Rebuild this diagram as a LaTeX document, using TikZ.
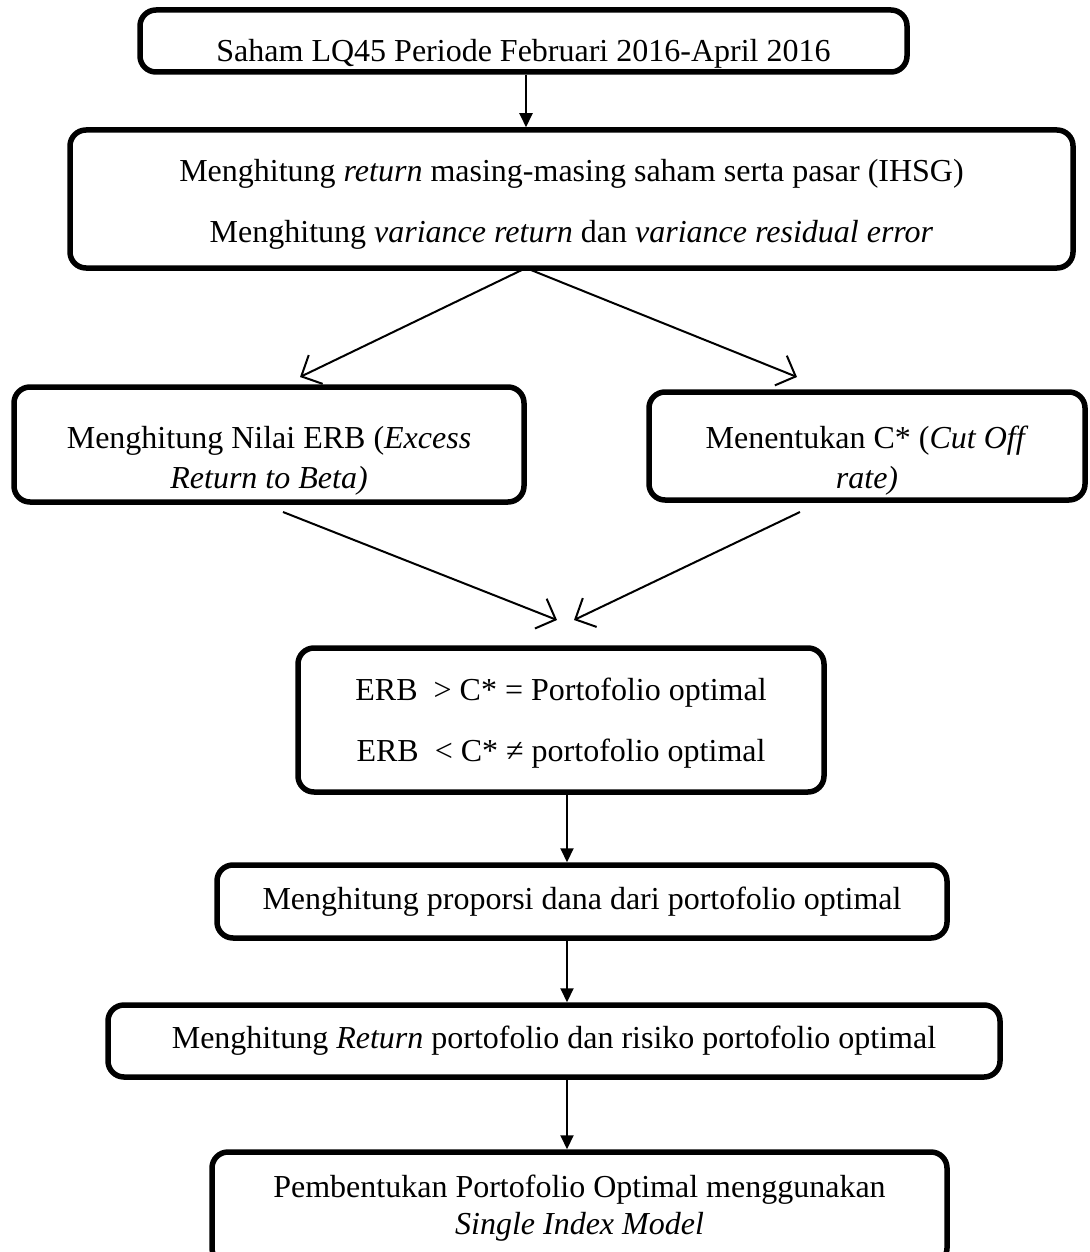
\documentclass[tikz,border=0pt]{standalone}
\usepackage{fontspec}
\setmainfont{Liberation Serif}
\usepackage{tikz}
\usetikzlibrary{positioning,arrows.meta}
\tikzset{
    stage/.style={draw=black,line width=5.5pt,rounded corners=16pt,inner sep=0pt,
        align=center,font=\fontsize{32}{37}\selectfont},
    downarrow/.style={draw,line width=2pt,-{Triangle[length=14pt,width=13pt]}},
    splitarrow/.style={draw,line width=2pt,-{Straight Barb[length=16pt,width=32pt,line width=2pt]}}
}
\newcommand{\lowered}[1]{\rule{0pt}{#1}}

\begin{document}
\begin{tikzpicture}[x=1pt,y=-1pt]
    \useasboundingbox (0,0) rectangle (1089,1252);
    \clip (0,0) rectangle (1089,1252);

    \node [stage,minimum width=767pt,minimum height=62pt] (saham) at (523.5,41)
        {\lowered{48pt}Saham LQ45 Periode Februari 2016-April 2016};
    \node [stage,minimum width=1003pt,minimum height=138pt] (hitung) at (571.5,199)
        {\lowered{32pt}Menghitung \textit{return} masing-masing saham serta pasar (IHSG)\\[24pt]
         Menghitung \textit{variance return} dan \textit{variance residual error}};
    \node [stage,minimum width=510pt,minimum height=115pt] (erb) at (269,444.5)
        {\lowered{54pt}Menghitung Nilai ERB (\textit{Excess}\\[3pt] \textit{Return to Beta)}};
    \node [stage,minimum width=436pt,minimum height=108pt] (cutoff) at (867,446)
        {\lowered{52pt}Menentukan C* (\textit{Cut Off}\\[3pt] \textit{rate)}};
    \node [stage,minimum width=526pt,minimum height=144pt] (seleksi) at (561,720)
        {\lowered{28pt}ERB\ \ > C* = Portofolio optimal\\[24pt] ERB\ \ < C* ≠ portofolio optimal};
    \node [stage,minimum width=730pt,minimum height=73pt] (proporsi) at (582,901.5)
        {Menghitung proporsi dana dari portofolio optimal};
    \node [stage,minimum width=892pt,minimum height=72pt] (risiko) at (554,1041)
        {Menghitung \textit{Return} portofolio dan risiko portofolio optimal};
    \node [stage,minimum width=735pt,minimum height=112pt] (sim) at (579.5,1208)
        {Pembentukan Portofolio Optimal menggunakan\\ \textit{Single Index Model}};

    \coordinate (col) at (567,0);
    \coordinate (fork) at (526,268);
    \coordinate (erbIn) at (300,377);
    \coordinate (cutIn) at (797,377);
    \coordinate (erbOut) at (283,512);
    \coordinate (cutOut) at (800,512);
    \coordinate (joinL) at (557,620);
    \coordinate (joinR) at (574,620);

    \path [downarrow] (saham.south -| fork) -- (hitung.north -| fork);
    \path [splitarrow] (fork) -- (erbIn);
    \path [splitarrow] (fork) -- (cutIn);
    \path [splitarrow] (erbOut) -- (joinL);
    \path [splitarrow] (cutOut) -- (joinR);
    \path [downarrow] (seleksi.south -| col) -- (proporsi.north -| col);
    \path [downarrow] (proporsi.south -| col) -- (risiko.north -| col);
    \path [downarrow] (risiko.south -| col) -- (sim.north -| col);
\end{tikzpicture}
\end{document}
